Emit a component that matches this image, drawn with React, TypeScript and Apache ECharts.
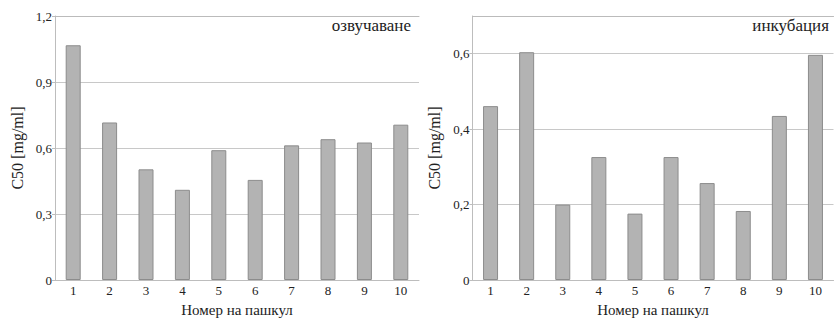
import React, { useEffect, useRef } from "react";
import * as echarts from "echarts";

const categories = ["1", "2", "3", "4", "5", "6", "7", "8", "9", "10"];
const sonication = [1.067, 0.716, 0.503, 0.41, 0.59, 0.455, 0.612, 0.64, 0.625, 0.706];
const incubation = [0.461, 0.604, 0.2, 0.326, 0.176, 0.326, 0.257, 0.183, 0.435, 0.597];
const titles = ["озвучаване", "инкубация"];
const yName = "C50 [mg/ml]";
const xName = "Номер на пашкул";
const yMax = [1.2, 0.7];
const yInterval = [0.3, 0.2];

const FONT = "'Liberation Serif', 'Times New Roman', serif";

const fmt = (v: number) => (v === 0 ? "0" : v.toFixed(1).replace(".", ","));

export default function App() {
  const ref = useRef<HTMLDivElement>(null);
  useEffect(() => {
    if (!ref.current) return;
    const chart = echarts.init(ref.current, undefined, { renderer: "svg" });
    const grids = [
      { left: 55, top: 16, width: 364, height: 268 },
      { left: 472.5, top: 16, width: 361, height: 268 },
    ];
    const xBottom = grids.map((_, i) => ({
      type: "category" as const,
      gridIndex: i,
      position: "bottom" as const,
      data: categories,
      axisLine: { show: true, onZero: false, lineStyle: { color: "#bdbdbd", width: 1 } },
      axisTick: { show: false },
      axisLabel: { color: "#222", fontFamily: FONT, fontSize: 13, margin: 4 },
      name: xName,
      nameLocation: "middle" as const,
      nameGap: 22,
      nameTextStyle: { color: "#222", fontFamily: FONT, fontSize: 15 },
    }));
    const xTop = grids.map((_, i) => ({
      type: "category" as const,
      gridIndex: i,
      position: "top" as const,
      data: categories,
      axisLine: { show: true, onZero: false, lineStyle: { color: "#bbbbbb", width: 1 } },
      axisTick: { show: false },
      axisLabel: { show: false },
      splitLine: { show: false },
    }));
    const yAxis = yMax.map((mx, i) => ({
      type: "value" as const,
      gridIndex: i,
      min: 0,
      max: mx,
      interval: yInterval[i],
      axisLine: { show: true, lineStyle: { color: "#bdbdbd", width: 1 } },
      axisTick: { show: true, length: 3, lineStyle: { color: "#bdbdbd" } },
      axisLabel: {
        color: "#222",
        fontFamily: FONT,
        fontSize: 13,
        margin: 3,
        showMaxLabel: i === 0,
        formatter: (v: number) => fmt(v),
      },
      splitLine: { show: true, lineStyle: { color: "#c8c8c8", width: 1 } },
      name: yName,
      nameLocation: "middle" as const,
      nameGap: 30,
      nameTextStyle: { color: "#222", fontFamily: FONT, fontSize: 16 },
    }));
    const seriesData = [sonication, incubation];
    chart.setOption({
      animation: false,
      title: [
        {
          text: titles[0],
          right: 423,
          top: 17,
          padding: 0,
          textStyle: { fontFamily: FONT, fontSize: 17, fontWeight: "normal", color: "#222" },
        },
        {
          text: titles[1],
          right: 5,
          top: 17,
          padding: 0,
          textStyle: { fontFamily: FONT, fontSize: 17, fontWeight: "normal", color: "#222" },
        },
      ],
      grid: grids,
      xAxis: [...xBottom, ...xTop],
      yAxis,
      series: [
        ...seriesData.map((d, i) => ({
          type: "bar",
          xAxisIndex: i,
          yAxisIndex: i,
          data: d,
          barWidth: 15,
          itemStyle: { color: "#b3b3b3", borderColor: "#8c8c8c", borderWidth: 1 },
        })),
        // empty series bound to the top axes so they are laid out
        ...seriesData.map((_, i) => ({
          type: "line",
          xAxisIndex: 2 + i,
          yAxisIndex: i,
          data: [],
          silent: true,
        })),
      ],
    });
    return () => chart.dispose();
  }, []);
  return (
    <div
      ref={ref}
      style={{ position: "absolute", left: 0, top: 0, width: 834, height: 322, background: "#fff" }}
    />
  );
}
